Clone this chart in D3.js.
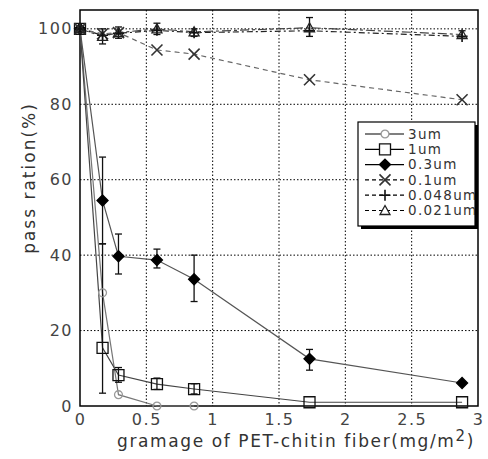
<!DOCTYPE html>
<html>
<head>
<meta charset="utf-8">
<script src="https://cdn.jsdelivr.net/npm/d3@7"></script>
<style>
  body { margin: 0; background: #fff; }
  svg text { font-family: "DejaVu Sans", Verdana, sans-serif; }
</style>
</head>
<body>
<svg id="chart" width="488" height="459"></svg>
<script>
const gramage = [0, 0.17, 0.29, 0.58, 0.86, 1.73, 2.88];
const xTicks = [0, 0.5, 1, 1.5, 2, 2.5, 3];
const yTicks = [0, 20, 40, 60, 80, 100];

const pass3um = [100, 30, 3, 0, 0];
const pass1um = [100, 15.4, 8.2, 5.8, 4.5, 1, 1];
const pass03um = [100, 54.5, 39.7, 38.7, 33.6, 12.5, 6.1];
const pass01um = [100, 98.7, 99, 94.4, 93.3, 86.5, 81.2];
const pass0048um = [100, 98.3, 98.8, 99.6, 99, 99.5, 98];
const pass0021um = [100, 98, 99, 100, 99.2, 100.3, 98.5];

// error bar ends (low / high), null = none drawn
const err1umLow = [null, 3.4, 6.3, 4.4, 3.2, null, null];
const err1umHigh = [null, 43, 10.2, 7.4, 5.9, null, null];
const err03umLow = [null, 43, 35, 36.6, 27.7, 9.5, null];
const err03umHigh = [null, 66, 45.6, 41.6, 40, 15, null];
const err0021umLow = [null, 96, 97.5, 98.5, 98, 98, 97.5];
const err0021umHigh = [null, 100, 100.5, 101.5, 100, 103, 99.5];

const series = [
  { name: "3um", values: pass3um, marker: "circle", dash: null, line: "#777", mark: "#999" },
  { name: "1um", values: pass1um, marker: "square", dash: null, line: "#444", mark: "#111",
    lo: err1umLow, hi: err1umHigh },
  { name: "0.3um", values: pass03um, marker: "diamond", dash: null, line: "#555", mark: "#000",
    lo: err03umLow, hi: err03umHigh },
  { name: "0.1um", values: pass01um, marker: "x", dash: "5,4", line: "#666", mark: "#333" },
  { name: "0.048um", values: pass0048um, marker: "plus", dash: "6,3,2,3", line: "#222", mark: "#111" },
  { name: "0.021um", values: pass0021um, marker: "triangle", dash: "9,3,3,3", line: "#444", mark: "#222",
    lo: err0021umLow, hi: err0021umHigh }
];

const PLOT = { left: 80, right: 478, top: 10, bottom: 406 };

const svg = d3.select("#chart");

const x = d3.scaleLinear().domain([0, 3]).range([PLOT.left, PLOT.right]);
const y = d3.scaleLinear().domain([0, 105]).range([PLOT.bottom, PLOT.top]);

// grid
const grid = svg.append("g").attr("stroke", "#000").attr("stroke-width", 1)
  .attr("stroke-dasharray", "1.5,2");
grid.selectAll(".gx").data(xTicks.slice(1, -1)).join("line")
  .attr("x1", d => x(d)).attr("x2", d => x(d))
  .attr("y1", PLOT.top).attr("y2", PLOT.bottom);
grid.selectAll(".gy").data(yTicks.slice(1)).join("line")
  .attr("y1", d => y(d)).attr("y2", d => y(d))
  .attr("x1", PLOT.left).attr("x2", PLOT.right);

// frame
svg.append("rect")
  .attr("x", PLOT.left).attr("y", PLOT.top)
  .attr("width", PLOT.right - PLOT.left).attr("height", PLOT.bottom - PLOT.top)
  .attr("fill", "none").attr("stroke", "#000").attr("stroke-width", 1.5);

// axes (labels only, frame drawn above)
const xAxis = d3.axisBottom(x).tickValues(xTicks).tickSize(0).tickPadding(8)
  .tickFormat(d3.format("~g"));
const yAxis = d3.axisLeft(y).tickValues(yTicks).tickSize(0).tickPadding(6);

svg.append("g").attr("transform", `translate(0,${PLOT.bottom})`).call(xAxis)
  .call(g => g.select(".domain").remove());
svg.append("g").attr("transform", `translate(${PLOT.left - 1},0)`).call(yAxis)
  .call(g => g.select(".domain").remove());

svg.selectAll(".tick text")
  .attr("font-size", 16).attr("fill", "#444")
  .attr("letter-spacing", 1.5);

svg.append("text")
  .attr("x", 296).attr("y", 447)
  .attr("text-anchor", "middle")
  .attr("font-size", 17).attr("fill", "#333")
  .attr("letter-spacing", 1.6)
  .text("gramage of PET-chitin fiber(mg/m")
  .append("tspan").attr("dy", -6).attr("font-size", 15).text("2")
  .select(function() { return this.parentNode; })
  .append("tspan").attr("dy", 6).text(")");

svg.append("text")
  .attr("transform", "translate(35,178) rotate(-90)")
  .attr("text-anchor", "middle")
  .attr("font-size", 17).attr("fill", "#333")
  .attr("letter-spacing", 2)
  .text("pass ration(%)");

const markerPath = (type, s) => {
  switch (type) {
    case "circle": return d3.symbol(d3.symbolCircle, s * s * 0.6)();
    case "square": return `M${-s / 2},${-s / 2}h${s}v${s}h${-s}Z`;
    case "diamond": return `M0,${-s / 2}L${s / 2},0L0,${s / 2}L${-s / 2},0Z`;
    case "x": return `M${-s / 2},${-s / 2}L${s / 2},${s / 2}M${-s / 2},${s / 2}L${s / 2},${-s / 2}`;
    case "plus": return `M${-s / 2},0H${s / 2}M0,${-s / 2}V${s / 2}`;
    case "triangle": return `M0,${-s / 2}L${s / 2},${s * 0.4}H${-s / 2}Z`;
  }
};

const markerStyle = (sel, s) => sel
  .attr("fill", s.marker === "diamond" ? s.mark : (s.marker === "x" || s.marker === "plus" ? "none" : "#fff"))
  .attr("fill-opacity", s.marker === "diamond" ? 1 : 0)
  .attr("stroke", s.mark)
  .attr("stroke-width", s.marker === "x" || s.marker === "plus" ? 1.6 : 1.3);

const markerSize = { circle: 9, square: 11, diamond: 11, x: 11, plus: 11, triangle: 10 };

const line = d3.line().x((d, i) => x(gramage[i])).y(d => y(d));

// lines
series.forEach(s => {
  svg.append("path")
    .attr("d", line(s.values))
    .attr("fill", "none")
    .attr("stroke", s.line)
    .attr("stroke-width", 1.2)
    .attr("stroke-dasharray", s.dash);
});

// error bars
series.filter(s => s.lo).forEach(s => {
  const g = svg.append("g").attr("stroke", "#111").attr("stroke-width", 1.3);
  s.lo.forEach((lo, i) => {
    if (lo == null) return;
    const cx = x(gramage[i]);
    const hi = s.hi[i];
    g.append("line").attr("x1", cx).attr("x2", cx).attr("y1", y(lo)).attr("y2", y(hi));
    g.append("line").attr("x1", cx - 3.5).attr("x2", cx + 3.5).attr("y1", y(lo)).attr("y2", y(lo));
    g.append("line").attr("x1", cx - 3.5).attr("x2", cx + 3.5).attr("y1", y(hi)).attr("y2", y(hi));
  });
});

// markers
series.forEach(s => {
  svg.append("g").selectAll("path").data(s.values).join("path")
    .attr("transform", (d, i) => `translate(${x(gramage[i])},${y(d)})`)
    .attr("d", markerPath(s.marker, markerSize[s.marker]))
    .call(sel => markerStyle(sel, s));
});

// legend
const LEG = { x: 358, y: 122, w: 117, h: 104 };
svg.append("rect")
  .attr("x", LEG.x + 3).attr("y", LEG.y + 3)
  .attr("width", LEG.w).attr("height", LEG.h)
  .attr("fill", "#000");
svg.append("rect")
  .attr("x", LEG.x).attr("y", LEG.y)
  .attr("width", LEG.w).attr("height", LEG.h)
  .attr("fill", "#fff").attr("stroke", "#000").attr("stroke-width", 1.2);

svg.append("clipPath").attr("id", "legclip")
  .append("rect").attr("x", LEG.x).attr("y", LEG.y).attr("width", LEG.w).attr("height", LEG.h);

const legend = svg.append("g").attr("clip-path", "url(#legclip)");
series.forEach((s, i) => {
  const ly = LEG.y + 12 + i * 15.3;
  legend.append("line")
    .attr("x1", LEG.x + 7).attr("x2", LEG.x + 46)
    .attr("y1", ly).attr("y2", ly)
    .attr("stroke", "#000").attr("stroke-width", 1.2)
    .attr("stroke-dasharray", s.dash ? "4,3" : null);
  legend.append("path")
    .attr("transform", `translate(${LEG.x + 27},${ly})`)
    .attr("d", markerPath(s.marker, markerSize[s.marker]))
    .call(sel => markerStyle(sel, s))
    .attr("fill-opacity", 1);
  legend.append("text")
    .attr("x", LEG.x + 50).attr("y", ly)
    .attr("dy", "0.36em")
    .attr("font-size", 13.5).attr("fill", "#333")
    .attr("letter-spacing", 1.3)
    .text(s.name);
});
</script>
</body>
</html>
